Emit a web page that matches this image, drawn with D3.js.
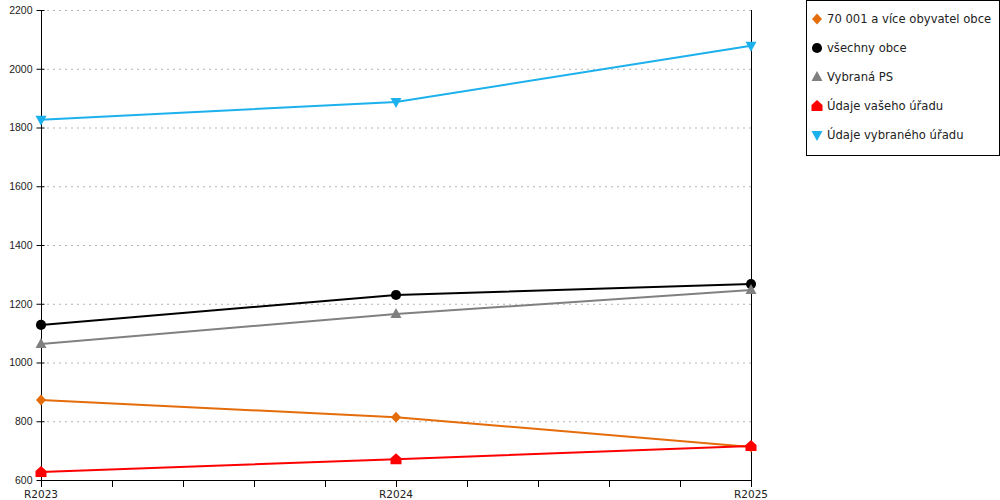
<!DOCTYPE html>
<html>
<head>
<meta charset="utf-8">
<script src="https://cdn.jsdelivr.net/npm/d3@7"></script>
<style>
  body { margin: 0; background: #fff; }
  svg { font-family: "DejaVu Sans", Verdana, sans-serif; }
</style>
</head>
<body>
<svg id="chart" width="1000" height="500"></svg>
<script>
// categories and series
const years = ['R2023', 'R2024', 'R2025'];
const yTicks = [600, 800, 1000, 1200, 1400, 1600, 1800, 2000, 2200];

const big = [872, 814, 712];
const all = [1128, 1230, 1267];
const ps = [1063, 1165, 1247];
const yours = [627, 671, 716];
const chosen = [1826, 1887, 2078];

const series = [
  { name: '70 001 a více obyvatel obce', values: big, color: '#e46c0a', symbol: 'diamond' },
  { name: 'všechny obce', values: all, color: '#000000', symbol: 'circle' },
  { name: 'Vybraná PS', values: ps, color: '#808080', symbol: 'up' },
  { name: 'Údaje vašeho úřadu', values: yours, color: '#ff0000', symbol: 'house' },
  { name: 'Údaje vybraného úřadu', values: chosen, color: '#1cb0ec', symbol: 'down' }
];

const svg = d3.select('#chart');
const plotLeft = 41, plotRight = 751, plotTop = 10, plotBottom = 480;

const x = d3.scalePoint().domain(years).range([plotLeft, plotRight]);
const y = d3.scaleLinear().domain([600, 2200]).range([plotBottom, plotTop]);

// marker path for each symbol
const marker = (symbol) => {
  switch (symbol) {
    case 'diamond': return 'M0,-5.5L5,0L0,5.5L-5,0Z';
    case 'circle': return d3.symbol(d3.symbolCircle, 80)();
    case 'up': return 'M0,-6L5.5,4L-5.5,4Z';
    case 'down': return 'M0,6L5.5,-4L-5.5,-4Z';
    case 'house': return 'M0,-6L5.5,-1L5.5,5L-5.5,5L-5.5,-1Z';
  }
};

// grid lines
svg.append('g')
    .selectAll('line')
    .data(yTicks.slice(1))
  .enter()
  .append('line')
    .attr('x1', plotLeft + 6)
    .attr('x2', plotRight)
    .attr('y1', (d) => y(d) + 0.5)
    .attr('y2', (d) => y(d) + 0.5)
    .attr('stroke', '#b4b4b4')
    .attr('stroke-dasharray', '2,4');

// y axis, ticks cross the axis line
const yAxis = svg.append('g')
    .attr('transform', `translate(${plotLeft + 0.5},0)`)
    .call(d3.axisLeft(y).tickValues(yTicks).tickSize(5).tickPadding(4).tickFormat(d3.format('d')));
yAxis.selectAll('.tick line').attr('x1', 3);
yAxis.selectAll('text').attr('font-size', 10.5).attr('fill', '#222');
yAxis.select('.domain').attr('d', `M0,${plotTop}V${plotBottom}`);

// x axis with minor ticks
const minor = d3.range(11).map((i) => plotLeft + (plotRight - plotLeft) * i / 10);
svg.append('g')
    .selectAll('line')
    .data(minor)
  .enter()
  .append('line')
    .attr('x1', (d) => Math.round(d) + 0.5)
    .attr('x2', (d) => Math.round(d) + 0.5)
    .attr('y1', plotBottom)
    .attr('y2', plotBottom + 7)
    .attr('stroke', '#000');

svg.append('line')
    .attr('x1', plotLeft).attr('x2', plotRight + 1)
    .attr('y1', plotBottom + 0.5).attr('y2', plotBottom + 0.5)
    .attr('stroke', '#000');

svg.append('line')
    .attr('x1', plotRight + 0.5).attr('x2', plotRight + 0.5)
    .attr('y1', plotTop).attr('y2', plotBottom)
    .attr('stroke', '#000');

svg.append('g')
    .selectAll('text')
    .data(years)
  .enter()
  .append('text')
    .attr('x', (d) => x(d))
    .attr('y', plotBottom + 18)
    .attr('text-anchor', 'middle')
    .attr('font-size', 10.5)
    .attr('fill', '#222')
    .text((d) => d);

// lines and markers
const line = d3.line()
    .x((d, i) => x(years[i]))
    .y((d) => y(d));

const groups = svg.append('g')
    .selectAll('g')
    .data(series)
  .enter()
  .append('g');

groups.append('path')
    .attr('d', (d) => line(d.values))
    .attr('fill', 'none')
    .attr('stroke', (d) => d.color)
    .attr('stroke-width', 2);

groups.each(function(s) {
  d3.select(this)
    .selectAll('path.m')
      .data(s.values)
    .enter()
    .append('path')
      .attr('class', 'm')
      .attr('d', marker(s.symbol))
      .attr('transform', (d, i) => `translate(${x(years[i])},${y(d)})`)
      .attr('fill', s.color);
});

// legend
const legend = svg.append('g');
legend.append('rect')
    .attr('x', 806.5).attr('y', 0.5)
    .attr('width', 193).attr('height', 155)
    .attr('fill', '#fff')
    .attr('stroke', '#000');

const items = legend.selectAll('g')
    .data(series)
  .enter()
  .append('g')
    .attr('transform', (d, i) => `translate(817,${19 + i * 29})`);

items.append('path')
    .attr('d', (d) => marker(d.symbol))
    .attr('fill', (d) => d.color);

items.append('text')
    .attr('x', 10)
    .attr('dy', '0.35em')
    .attr('font-size', 11.6)
    .attr('fill', '#222')
    .text((d) => d.name);
</script>
</body>
</html>
